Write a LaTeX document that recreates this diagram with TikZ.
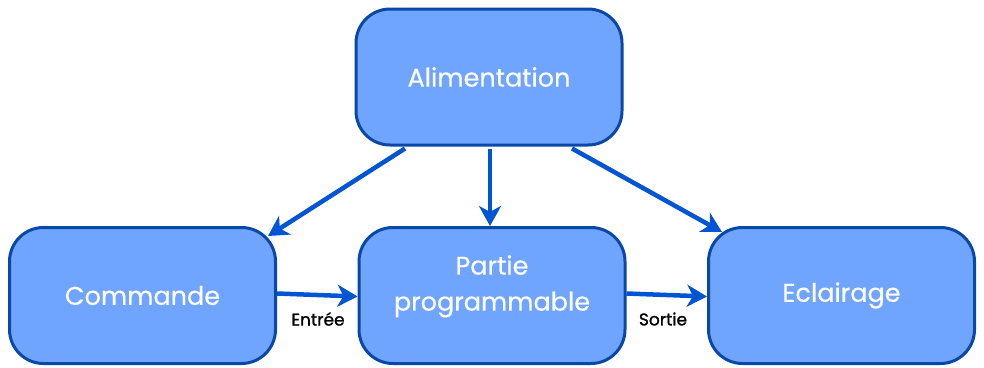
\documentclass[tikz,border=0pt]{standalone}
\usepackage{fontspec}
\setmainfont{Poppins}[FakeBold=0.4]
\newfontfamily\lblfont[FakeBold=1.2]{Poppins}
\usetikzlibrary{arrows.meta,calc}
\definecolor{boxfill}{HTML}{70A5FF}
\definecolor{boxline}{HTML}{0A48A8}
\definecolor{arrowc}{HTML}{0055D4}
\tikzset{
  blockbox/.style={draw=boxline, fill=boxfill, line width=3pt, rounded corners=34pt,
    minimum width=266pt, minimum height=136pt, text=white, font=\fontsize{25.5}{36}\selectfont,
    align=center, inner sep=0pt},
  conn/.style={draw=arrowc, line width=4.5pt, -{Stealth[length=20pt,width=22pt,inset=6pt]}},
  lbl/.style={font=\lblfont\fontsize{17}{20}\selectfont, text=black}
}
\begin{document}
\begin{tikzpicture}[x=1pt,y=-1pt]
\useasboundingbox (0,0) rectangle (984,367);
\node[blockbox] (ali) at (489,77) {Alimentation};
\node[blockbox] (cmd) at (142.5,295.5) {Commande};
\node[blockbox] (par) at (492,295.5) {\raisebox{50pt}{\begin{tabular}{@{}c@{}}Partie\\programmable\end{tabular}}};
\node[blockbox] (ecl) at (841.5,295.5) {Eclairage};
\draw[conn] ($(ali.south)+(-84,2)$) -- ($(cmd.north east)+(-9,10)$);
\draw[conn] ($(ali.south)+(1,2)$) -- ($(par.north)+(-2,0)$);
\draw[conn] ($(ali.south)+(83,2)$) -- ($(ecl.north west)+(15,6)$);
\draw[conn] ($(cmd.east)+(0,-2)$) -- ($(par.west)+(0,1)$);
\draw[conn] ($(par.east)+(0,-2)$) -- ($(ecl.west)+(0,1)$);
\node[lbl] (le) at (318,319) {Entrée};
\node[lbl] (ls) at (663,319) {Sortie};
\end{tikzpicture}
\end{document}
